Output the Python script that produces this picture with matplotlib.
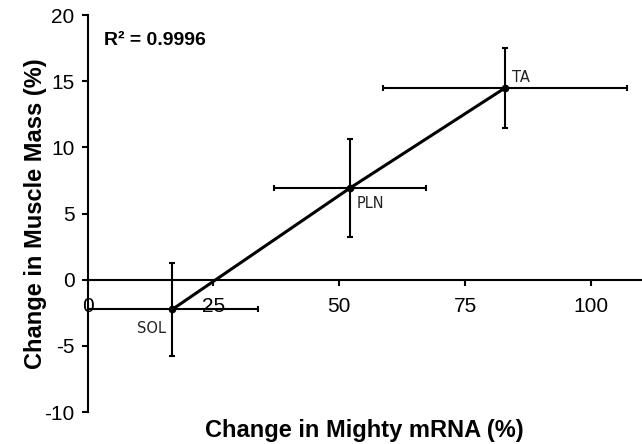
import matplotlib
matplotlib.use("Agg")
import matplotlib.pyplot as plt
from matplotlib import font_manager
import numpy as np

# Data
muscles = ["SOL", "PLN", "TA"]
mighty_change = [16.8, 52.2, 82.9]
mighty_err = [17.1, 15.1, 24.2]
mass_change = [-2.25, 6.95, 14.49]
mass_err = [3.55, 3.7, 3.03]
x_ticks = [0, 25, 50, 75, 100]
y_ticks = [-10, -5, 0, 5, 10, 15, 20]
r2_text = "R² = 0.9996"

names = {f.name for f in font_manager.fontManager.ttflist}
narrow = "Liberation Sans Narrow" if "Liberation Sans Narrow" in names else "DejaVu Sans"

plt.rcParams['font.family'] = ['Liberation Sans', 'DejaVu Sans']
plt.rcParams['axes.unicode_minus'] = False

fig = plt.figure(figsize=(6.42, 4.44), dpi=100)
ax = fig.add_axes([0.1365, 0.072, 0.8625, 0.894])

ax.errorbar(mighty_change, mass_change, xerr=mighty_err, yerr=mass_err,
            fmt='none', ecolor='black', elinewidth=1.5, capsize=2.5, capthick=1.5,
            zorder=3, clip_on=True)
ax.plot(mighty_change, mass_change, color='black', lw=2.2, zorder=4)
ax.plot(mighty_change, mass_change, 'o', color='black', ms=4.5, zorder=5)

offsets = {"SOL": (-35, -19), "PLN": (6, -16), "TA": (7, 10)}
for name, x, y in zip(muscles, mighty_change, mass_change):
    dx, dy = offsets[name]
    ax.annotate(name, (x, y), xytext=(dx, dy), textcoords='offset pixels',
                fontsize=10.5, family=[narrow, 'DejaVu Sans'], color='#222222',
                ha='left', va='center')

ax.set_xlim(0, 110)
ax.set_ylim(-10, 20)
ax.set_xticks(x_ticks)
ax.set_yticks(y_ticks)
ax.spines['bottom'].set_position(('data', 0))
ax.spines['top'].set_visible(False)
ax.spines['right'].set_visible(False)
for s in ['bottom', 'left']:
    ax.spines[s].set_linewidth(1.5)
ax.tick_params(axis='both', direction='out', length=4.5, width=1.5, labelsize=15,
               colors='black')
ax.tick_params(axis='x', pad=8)
ax.tick_params(axis='y', pad=5)

ax.set_xlabel("Change in Mighty mRNA (%)", fontsize=17, fontweight='bold')
ax.xaxis.set_label_coords(0.5, -0.017)
ax.set_ylabel("Change in Muscle Mass (%)", fontsize=17, fontweight='bold')
ax.yaxis.set_label_coords(-0.073, 0.5)

ax.text(0.03, 0.937, r2_text, transform=ax.transAxes, fontsize=14,
        fontweight='bold', va='center', ha='left')

fig.savefig("out.png", dpi=100)
